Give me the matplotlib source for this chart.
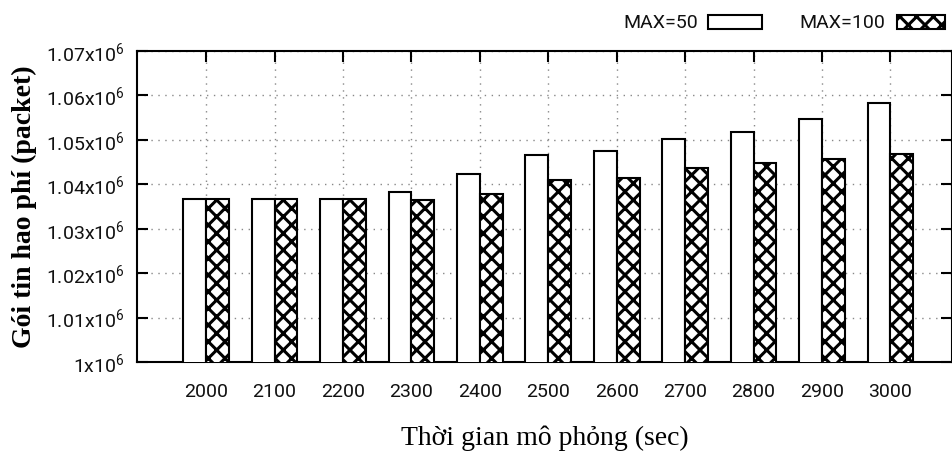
import matplotlib
matplotlib.use("Agg")
import matplotlib.pyplot as plt
from matplotlib.patches import Rectangle
from matplotlib.ticker import FixedLocator, FuncFormatter
import numpy as np

# Simulation time (sec) and overhead packets for the two MAX settings
times = ["2000", "2100", "2200", "2300", "2400", "2500",
         "2600", "2700", "2800", "2900", "3000"]
max50 = [1036600, 1036600, 1036600, 1038200, 1042400, 1046500,
         1047600, 1050100, 1051800, 1054600, 1058300]
max100 = [1036600, 1036600, 1036600, 1036500, 1037800, 1041000,
          1041500, 1043600, 1044800, 1045600, 1046900]
series_labels = ["MAX=50", "MAX=100"]
y_ticks = [1000000, 1010000, 1020000, 1030000, 1040000, 1050000, 1060000, 1070000]

plt.rcParams["mathtext.default"] = "regular"
plt.rcParams["hatch.linewidth"] = 2.2
plt.rcParams["hatch.color"] = "black"

tick_font = ["Roboto", "DejaVu Sans"]
serif_font = ["Liberation Serif", "DejaVu Serif"]

fig = plt.figure(figsize=(9.53, 4.55), dpi=100)
ax = fig.add_axes([137 / 953, 93 / 455, 815 / 953, 311 / 455])

x = np.arange(len(times))
w = 1 / 3
ax.bar(x - w / 2, max50, width=w, color="white", edgecolor="black",
       linewidth=1.5, zorder=3)
ax.bar(x + w / 2, max100, width=w, color="white", edgecolor="black",
       linewidth=1.5, hatch="xx", zorder=3)

ax.set_xlim(-1.01, 10.9)
ax.set_ylim(y_ticks[0], y_ticks[-1])

ax.xaxis.set_major_locator(FixedLocator(x))
ax.set_xticklabels(times)
ax.yaxis.set_major_locator(FixedLocator(y_ticks))


def fmt(v, pos):
    m = v / 1e6
    s = "1" if abs(m - 1) < 1e-9 else f"{m:.2f}"
    return s + "x10$^{6}$"


ax.yaxis.set_major_formatter(FuncFormatter(fmt))

ax.tick_params(axis="both", direction="in", length=8, width=1.5,
               top=True, right=True, labelsize=14, labelcolor="#111111")
ax.tick_params(axis="x", pad=15)
ax.tick_params(axis="y", pad=9)
for lab in ax.get_xticklabels() + ax.get_yticklabels():
    lab.set_family(tick_font)

for sp in ax.spines.values():
    sp.set_linewidth(1.5)
    sp.set_color("black")

ax.set_axisbelow(True)
ax.grid(True, color="#888888", linestyle=(0, (1, 4)), linewidth=1.0, zorder=0)

ax.set_ylabel("Gói tin hao phí (packet)", family=serif_font,
              fontsize=20, fontweight="bold")
ax.yaxis.set_label_coords(-0.123, 0.5)
ax.set_xlabel("Thời gian mô phỏng (sec)", family=serif_font,
              fontsize=20, labelpad=18)

# Key in the top-right corner: label text followed by a sample box
key_items = [(series_labels[0], None, 698, 708, 762),
             (series_labels[1], "xx", 885, 897, 945)]
for text, hatch, tx, bx0, bx1 in key_items:
    fig.text(tx / 953, 1 - 23 / 455, text, ha="right", va="center",
             family=tick_font, fontsize=14, color="#111111")
    fig.patches.append(Rectangle((bx0 / 953, 1 - 29 / 455),
                                 (bx1 - bx0) / 953, 14 / 455,
                                 transform=fig.transFigure, facecolor="white",
                                 edgecolor="black", linewidth=1.5,
                                 hatch=hatch))

fig.savefig("out.png", dpi=100)
